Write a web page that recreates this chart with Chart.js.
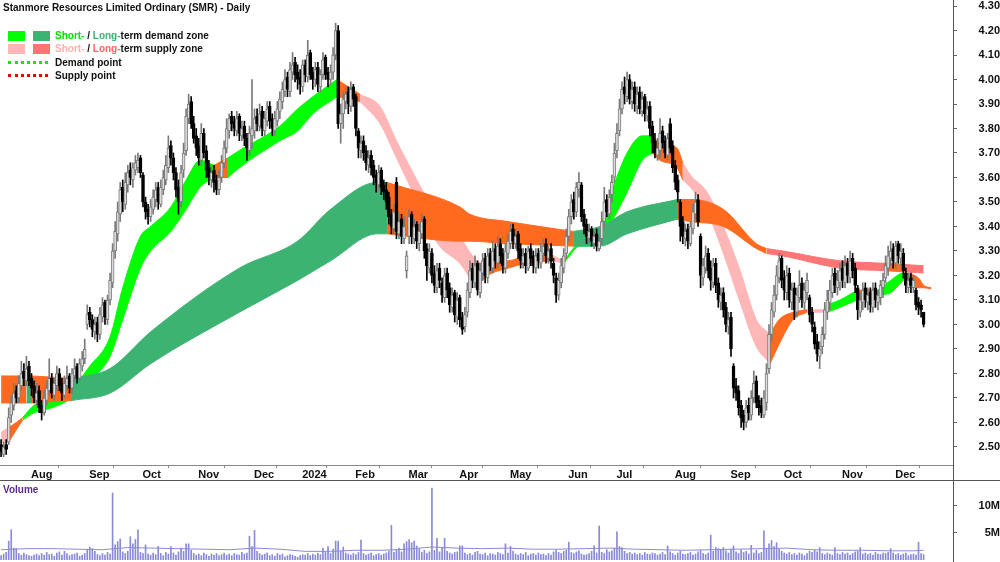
<!DOCTYPE html>
<html>
<head>
<meta charset="utf-8">
<script src="https://cdn.jsdelivr.net/npm/chart.js@4.4.1/dist/chart.umd.min.js"></script>
<style>
  body { margin: 0; background: #fff; width: 1000px; height: 562px; overflow: hidden; position: relative;
         font-family: "Liberation Sans", Arial, sans-serif; font-weight: bold; font-size: 10px; color: #111; }
  canvas { position: absolute; left: 0; }
  #main { top: 0; }
  #vol { top: 480px; }
  .abs { position: absolute; white-space: nowrap; }
  #title { left: 3px; top: 2px; font-size: 10px; }
  .sw { position: absolute; width: 17px; height: 10px; }
  .dots { position: absolute; left: 8px; width: 40px; height: 0; border-top: 3px dotted; }
  #sepline { position: absolute; left: 0; top: 480px; width: 1000px; height: 1px; background: #555; }
  #vline { position: absolute; left: 953px; top: 0; width: 1px; height: 562px; background: #555; }
  #volLabel { left: 3px; top: 484px; color: #5b2a8c; }
</style>
</head>
<body>
<canvas id="main" width="1000" height="480"></canvas>
<canvas id="vol" width="1000" height="82"></canvas>
<div id="sepline"></div>
<div id="vline"></div>

<div id="title" class="abs">Stanmore Resources Limited Ordinary (SMR) - Daily</div>
<div class="sw" style="left:8px;top:31px;background:#00ff00"></div>
<div class="sw" style="left:33px;top:31px;background:#3cb371"></div>
<div class="abs" style="left:55px;top:30px"><span style="color:#00dd00">Short-</span> / <span style="color:#3cb371">Long-</span>term demand zone</div>
<div class="sw" style="left:8px;top:44px;background:#ffb6b6"></div>
<div class="sw" style="left:33px;top:44px;background:#ff7474"></div>
<div class="abs" style="left:55px;top:43px"><span style="color:#ffb0b0">Short-</span> / <span style="color:#ff6464">Long-</span>term supply zone</div>
<div class="dots" style="top:61px;border-color:#00ee00"></div>
<div class="abs" style="left:55px;top:57px">Demand point</div>
<div class="dots" style="top:74px;border-color:#ee0000"></div>
<div class="abs" style="left:55px;top:70px">Supply point</div>
<div id="volLabel" class="abs">Volume</div>

<script>
// daily candles, index 0 = 17 Jul 2023
const opens = [
2.51,2.47,2.51,2.52,2.63,2.67,2.73,2.70,2.75,2.81,
2.77,2.83,2.78,2.75,2.69,2.73,2.67,2.64,2.69,2.73,
2.78,2.71,2.75,2.80,2.76,2.71,2.75,2.79,2.74,2.79,
2.83,2.78,2.83,2.86,3.00,3.05,3.02,2.97,3.01,2.96,
3.03,3.09,3.02,3.10,3.17,3.30,3.37,3.45,3.56,3.49,
3.57,3.63,3.59,3.63,3.64,3.68,3.61,3.50,3.47,3.44,
3.47,3.51,3.56,3.49,3.55,3.59,3.64,3.73,3.68,3.62,
3.56,3.50,3.63,3.71,3.84,3.91,3.82,3.77,3.73,3.67,
3.78,3.71,3.64,3.59,3.63,3.59,3.55,3.60,3.66,3.72,
3.79,3.85,3.83,3.79,3.85,3.77,3.81,3.76,3.71,3.77,
3.79,3.85,3.81,3.87,3.79,3.83,3.89,3.84,3.79,3.83,
3.87,3.91,3.95,4.01,3.95,4.03,4.07,4.03,4.01,3.97,
4.06,4.01,4.11,4.03,4.00,4.05,3.97,4.02,4.09,4.03,
4.00,4.03,4.10,4.20,3.82,3.86,3.91,3.95,3.89,3.97,
3.93,3.79,3.71,3.75,3.71,3.65,3.69,3.65,3.61,3.57,
3.63,3.57,3.55,3.52,3.45,3.39,3.58,3.37,3.43,3.35,
3.22,3.36,3.45,3.35,3.41,3.33,3.37,3.43,3.31,3.23,
3.29,3.21,3.15,3.23,3.17,3.11,3.21,3.15,3.07,3.13,
3.03,3.11,3.03,2.99,3.05,3.13,3.23,3.17,3.25,3.13,
3.21,3.27,3.19,3.29,3.23,3.31,3.25,3.33,3.29,3.23,
3.29,3.33,3.39,3.33,3.37,3.31,3.25,3.29,3.23,3.31,
3.28,3.23,3.29,3.25,3.29,3.33,3.27,3.31,3.25,3.19,
3.12,3.17,3.23,3.29,3.36,3.44,3.51,3.46,3.55,3.57,
3.45,3.41,3.35,3.39,3.33,3.37,3.31,3.35,3.42,3.51,
3.45,3.53,3.60,3.71,3.79,3.88,3.97,3.93,4.00,3.91,
3.97,3.89,3.95,3.87,3.93,3.85,3.89,3.81,3.75,3.69,
3.71,3.79,3.75,3.69,3.82,3.73,3.65,3.59,3.50,3.42,
3.35,3.39,3.33,3.39,3.45,3.51,3.36,3.19,3.23,3.29,
3.23,3.17,3.25,3.17,3.09,3.13,3.07,2.99,3.03,2.83,
2.75,2.73,2.67,2.63,2.60,2.67,2.63,2.70,2.77,2.69,
2.67,2.63,2.68,2.82,2.96,3.05,3.12,3.19,3.27,3.19,
3.13,3.21,3.09,3.15,3.05,3.11,3.17,3.09,3.13,3.11,
3.05,2.99,2.93,2.87,2.91,2.96,3.05,3.09,3.13,3.21,
3.15,3.17,3.23,3.17,3.25,3.19,3.27,3.23,3.15,3.05,
3.09,3.15,3.09,3.13,3.07,3.15,3.09,3.11,3.15,3.19,
3.23,3.27,3.31,3.25,3.33,3.27,3.29,3.21,3.15,3.19,
3.15,3.14,3.09,3.08,3.05];

const highs = [
2.53,2.52,2.53,2.66,2.71,2.76,2.75,2.79,2.85,2.84,
2.87,2.85,2.80,2.77,2.76,2.75,2.69,2.73,2.77,2.86,
2.80,2.78,2.83,2.82,2.78,2.79,2.83,2.80,2.82,2.86,
2.84,2.86,2.89,2.94,3.08,3.07,3.04,3.03,3.03,3.07,
3.11,3.10,3.12,3.21,3.33,3.42,3.50,3.58,3.59,3.62,
3.65,3.66,3.66,3.69,3.70,3.69,3.62,3.52,3.49,3.51,
3.55,3.58,3.58,3.59,3.63,3.69,3.77,3.75,3.70,3.64,
3.59,3.65,3.74,3.88,3.94,3.93,3.85,3.80,3.76,3.82,
3.80,3.73,3.67,3.65,3.65,3.61,3.63,3.69,3.75,3.84,
3.86,3.87,3.85,3.87,3.86,3.83,3.83,3.78,3.81,4.00,
3.88,3.88,3.90,3.89,3.87,3.91,3.91,3.86,3.87,3.91,
3.95,3.99,4.04,4.03,4.07,4.11,4.09,4.06,4.04,4.08,
4.08,4.16,4.12,4.05,4.07,4.07,4.04,4.11,4.10,4.05,
4.06,4.13,4.23,4.22,3.90,3.95,3.97,3.97,3.99,3.98,
3.94,3.80,3.77,3.77,3.73,3.71,3.71,3.67,3.63,3.65,
3.64,3.59,3.58,3.54,3.47,3.49,3.60,3.46,3.45,3.44,
3.30,3.47,3.46,3.43,3.42,3.41,3.45,3.44,3.33,3.33,
3.31,3.24,3.25,3.25,3.19,3.23,3.23,3.17,3.15,3.14,
3.13,3.12,3.05,3.07,3.17,3.26,3.25,3.28,3.26,3.25,
3.29,3.29,3.31,3.31,3.34,3.33,3.36,3.35,3.31,3.33,
3.37,3.41,3.41,3.39,3.38,3.33,3.31,3.31,3.32,3.33,
3.30,3.31,3.31,3.33,3.35,3.35,3.32,3.33,3.27,3.21,
3.21,3.27,3.31,3.39,3.47,3.53,3.54,3.58,3.62,3.58,
3.47,3.43,3.41,3.40,3.38,3.39,3.36,3.46,3.56,3.53,
3.55,3.61,3.74,3.82,3.92,3.99,4.01,4.03,4.02,3.99,
3.99,3.97,3.97,3.95,3.94,3.91,3.91,3.83,3.78,3.76,
3.84,3.81,3.77,3.78,3.84,3.75,3.67,3.61,3.51,3.44,
3.41,3.41,3.42,3.49,3.54,3.53,3.37,3.27,3.32,3.31,
3.26,3.27,3.27,3.19,3.15,3.15,3.09,3.05,3.05,2.84,
2.78,2.75,2.69,2.65,2.69,2.70,2.73,2.81,2.79,2.71,
2.70,2.73,2.84,3.00,3.09,3.16,3.24,3.29,3.28,3.22,
3.24,3.23,3.17,3.17,3.15,3.22,3.19,3.17,3.21,3.12,
3.07,3.01,2.96,2.93,2.99,3.09,3.14,3.18,3.23,3.23,
3.22,3.25,3.26,3.28,3.27,3.30,3.29,3.25,3.16,3.13,
3.17,3.17,3.15,3.15,3.17,3.17,3.14,3.18,3.21,3.28,
3.32,3.34,3.33,3.34,3.34,3.33,3.31,3.23,3.21,3.21,
3.20,3.15,3.11,3.10,3.05];

const lows = [
2.46,2.46,2.47,2.51,2.60,2.65,2.68,2.68,2.73,2.75,
2.75,2.75,2.71,2.68,2.67,2.64,2.61,2.63,2.67,2.71,
2.70,2.69,2.73,2.73,2.69,2.70,2.73,2.72,2.72,2.77,
2.76,2.77,2.81,2.84,2.98,2.99,2.95,2.94,2.93,2.94,
3.01,3.00,3.00,3.08,3.15,3.27,3.34,3.42,3.46,3.47,
3.54,3.57,3.56,3.61,3.62,3.60,3.48,3.43,3.41,3.42,
3.45,3.48,3.47,3.48,3.53,3.57,3.62,3.65,3.59,3.52,
3.45,3.48,3.60,3.69,3.82,3.80,3.74,3.69,3.65,3.65,
3.68,3.60,3.57,3.56,3.54,3.53,3.53,3.58,3.64,3.70,
3.76,3.79,3.77,3.77,3.75,3.75,3.73,3.67,3.69,3.72,
3.76,3.79,3.79,3.77,3.77,3.81,3.80,3.77,3.77,3.81,
3.84,3.88,3.93,3.93,3.93,4.00,3.99,3.96,3.94,3.95,
3.99,3.99,4.00,3.96,3.97,3.95,3.95,4.00,4.00,3.97,
3.98,4.00,4.08,3.80,3.74,3.80,3.88,3.86,3.87,3.89,
3.77,3.68,3.68,3.67,3.63,3.62,3.61,3.57,3.54,3.55,
3.53,3.51,3.47,3.41,3.37,3.37,3.35,3.35,3.33,3.33,
3.19,3.33,3.33,3.33,3.31,3.30,3.35,3.27,3.18,3.21,
3.17,3.13,3.13,3.15,3.09,3.09,3.11,3.05,3.05,3.01,
3.00,2.99,2.96,2.97,3.03,3.11,3.15,3.15,3.12,3.11,
3.18,3.17,3.17,3.22,3.21,3.23,3.23,3.25,3.21,3.21,
3.27,3.31,3.31,3.31,3.27,3.23,3.23,3.21,3.22,3.24,
3.21,3.21,3.23,3.23,3.26,3.25,3.25,3.23,3.17,3.09,
3.10,3.15,3.21,3.27,3.34,3.41,3.43,3.44,3.52,3.42,
3.37,3.33,3.33,3.32,3.31,3.30,3.30,3.33,3.40,3.44,
3.43,3.50,3.58,3.68,3.77,3.86,3.90,3.91,3.90,3.88,
3.87,3.86,3.86,3.85,3.83,3.83,3.77,3.70,3.68,3.67,
3.68,3.72,3.68,3.67,3.70,3.62,3.55,3.50,3.34,3.33,
3.32,3.31,3.32,3.37,3.43,3.40,3.15,3.16,3.21,3.19,
3.14,3.15,3.13,3.07,3.06,3.03,2.97,2.96,2.87,2.70,
2.69,2.63,2.58,2.57,2.58,2.61,2.61,2.68,2.66,2.63,
2.62,2.62,2.65,2.80,2.93,3.03,3.10,3.17,3.15,3.10,
3.10,3.07,3.06,3.02,3.03,3.09,3.07,3.06,3.10,3.01,
2.97,2.90,2.85,2.82,2.88,2.94,3.02,3.06,3.11,3.13,
3.12,3.14,3.15,3.15,3.17,3.17,3.19,3.13,3.02,3.03,
3.06,3.07,3.06,3.05,3.05,3.07,3.06,3.08,3.11,3.17,
3.20,3.24,3.23,3.23,3.25,3.24,3.19,3.13,3.13,3.13,
3.13,3.06,3.04,3.03,2.99];

const closes = [
2.48,2.50,2.49,2.62,2.68,2.72,2.70,2.76,2.80,2.78,
2.82,2.77,2.74,2.70,2.72,2.66,2.64,2.70,2.74,2.78,
2.72,2.76,2.80,2.75,2.72,2.76,2.78,2.74,2.80,2.82,
2.78,2.84,2.86,2.90,3.04,3.02,2.98,3.00,2.96,3.04,
3.08,3.03,3.10,3.18,3.30,3.38,3.46,3.55,3.50,3.58,
3.62,3.60,3.64,3.66,3.67,3.62,3.50,3.46,3.44,3.48,
3.52,3.55,3.50,3.56,3.60,3.65,3.72,3.68,3.62,3.55,
3.50,3.62,3.70,3.85,3.90,3.82,3.76,3.72,3.68,3.78,
3.70,3.63,3.60,3.62,3.58,3.55,3.60,3.66,3.72,3.80,
3.84,3.82,3.80,3.84,3.78,3.80,3.76,3.72,3.78,3.80,
3.84,3.82,3.86,3.80,3.84,3.88,3.83,3.80,3.84,3.88,
3.92,3.96,4.00,3.96,4.04,4.06,4.02,4.00,3.98,4.06,
4.02,4.10,4.02,4.00,4.04,3.98,4.02,4.08,4.02,4.00,
4.03,4.10,4.20,3.82,3.86,3.92,3.94,3.90,3.96,3.92,
3.80,3.72,3.74,3.70,3.66,3.68,3.64,3.60,3.58,3.62,
3.56,3.54,3.50,3.44,3.40,3.46,3.38,3.42,3.36,3.40,
3.28,3.44,3.36,3.40,3.34,3.38,3.42,3.30,3.24,3.30,
3.20,3.16,3.22,3.18,3.12,3.20,3.14,3.08,3.12,3.04,
3.10,3.02,2.98,3.04,3.14,3.22,3.18,3.24,3.14,3.22,
3.26,3.20,3.28,3.24,3.30,3.26,3.32,3.28,3.24,3.30,
3.34,3.38,3.34,3.36,3.30,3.26,3.28,3.24,3.30,3.27,
3.24,3.28,3.26,3.30,3.32,3.28,3.30,3.26,3.20,3.12,
3.18,3.24,3.28,3.36,3.44,3.50,3.46,3.56,3.58,3.44,
3.40,3.36,3.38,3.34,3.36,3.32,3.34,3.42,3.50,3.46,
3.52,3.58,3.70,3.78,3.88,3.96,3.94,4.00,3.92,3.96,
3.90,3.94,3.88,3.92,3.86,3.88,3.80,3.74,3.70,3.72,
3.78,3.74,3.70,3.76,3.72,3.64,3.58,3.54,3.40,3.36,
3.38,3.34,3.40,3.46,3.50,3.42,3.20,3.24,3.28,3.22,
3.18,3.24,3.16,3.10,3.12,3.06,3.00,3.02,2.90,2.74,
2.72,2.66,2.62,2.60,2.66,2.64,2.70,2.76,2.68,2.66,
2.64,2.70,2.80,2.96,3.06,3.12,3.20,3.26,3.18,3.14,
3.20,3.10,3.14,3.06,3.12,3.16,3.10,3.14,3.18,3.04,
3.00,2.92,2.88,2.90,2.96,3.06,3.10,3.14,3.20,3.16,
3.18,3.22,3.18,3.24,3.20,3.26,3.22,3.16,3.06,3.10,
3.14,3.10,3.12,3.08,3.14,3.10,3.12,3.16,3.18,3.24,
3.28,3.30,3.26,3.32,3.28,3.30,3.22,3.16,3.18,3.16,
3.18,3.08,3.07,3.06,3.00];

// volume in millions
const volumes = [
0.8,1.1,1.4,3.5,5.6,2.2,2.1,1.2,0.9,1.3,
1.0,0.8,0.7,0.9,1.1,0.8,1.2,0.9,1.4,1.0,
1.1,0.7,1.3,1.5,0.9,1.6,1.2,0.8,1.0,1.1,
1.3,0.7,0.9,1.2,1.9,2.4,2.1,1.6,1.0,0.8,
1.2,0.9,1.4,1.1,12.4,2.8,3.4,3.9,1.5,1.2,
1.6,4.3,3.0,3.8,5.6,1.4,1.2,2.8,1.1,0.9,
1.3,1.0,2.5,1.2,0.8,1.4,1.1,2.5,1.3,0.9,
1.5,2.2,1.6,3.0,3.0,1.8,1.2,0.9,1.1,0.8,
1.3,1.0,0.7,1.1,0.9,1.2,0.8,1.0,1.3,0.9,
1.1,0.8,1.2,1.0,0.9,1.4,1.1,1.3,4.4,2.5,
5.5,1.6,1.2,0.9,1.1,1.3,0.8,1.0,0.7,1.2,
0.9,1.1,0.6,0.8,1.0,0.9,0.7,0.5,0.8,1.0,
0.9,1.2,0.8,1.1,0.9,1.3,1.0,2.2,1.4,2.5,
1.2,2.0,3.5,3.5,1.6,2.4,1.3,1.1,0.9,1.2,
1.0,1.4,3.7,1.2,0.9,1.1,1.3,0.8,1.0,1.2,
0.9,1.1,1.3,1.6,6.4,1.4,1.9,2.2,1.5,3.0,
3.4,3.8,3.2,3.5,2.6,2.1,1.4,1.8,1.2,1.5,
13.3,1.8,4.0,1.5,2.2,4.0,1.6,1.3,1.1,1.4,
1.5,2.6,2.6,1.3,1.0,1.2,0.9,1.4,1.6,1.1,
1.0,1.3,0.8,1.2,1.1,0.9,1.4,1.2,1.0,3.0,
1.3,2.5,1.6,1.1,0.9,1.2,1.0,1.4,0.8,1.1,
1.2,0.9,1.3,1.0,1.1,0.8,1.2,0.9,1.5,1.9,
1.4,1.2,1.6,1.8,3.3,1.4,1.2,1.5,1.7,1.1,
0.9,1.0,1.2,1.6,2.6,1.3,6.3,1.4,1.2,1.9,
1.5,1.7,2.2,5.2,2.5,2.3,1.6,1.2,1.4,1.1,
1.3,1.0,1.2,0.9,1.4,1.1,1.0,1.3,1.2,0.9,
1.1,1.4,1.0,2.6,1.5,1.2,0.9,1.3,1.6,1.1,
1.0,1.2,1.4,0.9,1.1,1.5,1.8,1.2,1.0,1.3,
4.6,1.6,2.3,2.1,1.9,2.3,1.7,1.3,2.0,2.6,
1.5,1.2,1.9,1.4,1.6,1.1,2.7,1.3,1.8,1.2,
1.4,5.4,2.1,3.0,3.6,2.5,3.2,2.0,1.6,1.3,
1.1,1.4,1.0,1.2,0.9,1.3,1.1,0.8,1.2,1.6,
1.4,1.8,1.5,2.3,1.2,1.0,1.3,1.1,0.9,2.3,
1.2,1.0,1.4,1.1,1.3,0.9,1.2,1.5,1.6,2.3,
1.1,1.3,1.0,1.2,0.9,1.4,1.1,1.0,1.3,1.2,
1.4,2.1,1.3,1.0,1.2,0.9,1.1,1.3,0.8,1.0,
1.1,0.9,3.3,1.2,1.0];

// volume average line, read every 10 sessions
const volMaIdx = [0,10,20,30,40,50,60,70,80,90,100,110,120,130,140,150,160,170,180,190,200,210,220,230,240,250,260,270,280,290,300,310,320,330,340,350,360,364];
const volMa = [1.9,2.1,2.1,2.0,1.9,2.3,2.2,2.1,2.0,1.9,2.2,2.0,1.6,1.6,1.8,1.8,2.0,2.4,2.2,2.1,2.2,2.0,2.0,2.1,2.2,2.0,1.9,1.8,1.9,2.0,2.1,2.2,1.9,1.8,1.8,1.7,1.7,1.8];

// short-term zone edges (session index, top, bottom, colour of the piece that starts there)
const stIdx = [0,3,6,8.5,13,20,28,35,43,48,55,59,67,73,78.5,84,89.5,94,110,117,123,132.5,141.6,149.5,156,162.5,169,173,181,186,189,192,200,207.5,218,222,228.5,233.6,236.4,241.5,247,253,257,260,266.7,269,272,278.6,285,291.6,298,303.4,307,312.5,318,324,326,331,337.8,346,351,356,357.5,362,364,367];
const stHi = [2.56,2.58,2.60,2.62,2.67,2.69,2.74,2.83,2.95,3.15,3.36,3.40,3.48,3.59,3.67,3.65,3.68,3.71,3.81,3.88,3.93,4.00,3.94,3.89,3.75,3.62,3.50,3.45,3.36,3.28,3.25,3.26,3.26,3.28,3.28,3.26,3.34,3.36,3.40,3.56,3.70,3.77,3.77,3.74,3.72,3.66,3.61,3.54,3.40,3.22,3.02,2.96,3.02,3.05,3.06,3.06,3.08,3.10,3.14,3.14,3.18,3.21,3.21,3.19,3.16,3.15];
const stLo = [2.52,2.52,2.57,2.61,2.64,2.66,2.70,2.77,2.87,3.02,3.23,3.30,3.38,3.47,3.56,3.60,3.60,3.64,3.75,3.79,3.86,3.93,3.91,3.82,3.68,3.54,3.39,3.32,3.25,3.18,3.17,3.20,3.23,3.25,3.26,3.25,3.32,3.32,3.34,3.43,3.54,3.67,3.70,3.67,3.64,3.59,3.56,3.46,3.29,3.09,2.91,2.84,2.92,3.02,3.05,3.05,3.05,3.07,3.10,3.12,3.13,3.18,3.19,3.15,3.15,3.145];
const stCol = ['pink','orange','orange','lime','lime','lime','lime','lime','lime','lime',
  'lime','lime','lime','lime','lime','orange','lime','lime','lime','lime',
  'lime','orange','pink','pink','pink','pink','pink','pink','pink','pink','orange',
  'orange','orange','orange','pink','lime','lime','lime','lime','lime','lime',
  'lime','orange','orange','orange','pink','pink','pink','pink','pink','pink',
  'orange','orange','orange','pink','pink','lime','lime','orange','lime','lime',
  'lime','orange','orange','orange','orange'];

// long-term zone edges
const ltIdx = [0,10,12.2,28,43,59,94,117,130,148.4,152.3,181,185,200,225.7,236.4,247,266.7,272,285,298,302,308.5,331,348,356,364];
const ltHi = [2.79,2.79,2.79,2.78,2.82,2.97,3.23,3.34,3.47,3.58,3.58,3.48,3.45,3.42,3.38,3.40,3.46,3.51,3.51,3.47,3.33,3.31,3.30,3.26,3.25,3.245,3.24];
const ltLo = [2.68,2.68,2.68,2.69,2.72,2.84,3.05,3.18,3.26,3.37,3.37,3.34,3.34,3.33,3.32,3.32,3.37,3.43,3.42,3.40,3.31,3.29,3.28,3.23,3.22,3.215,3.21];
const ltCol = ['orange','sea','orange','sea','sea','sea','sea','sea','sea','sea','orange','orange','orange','orange','sea','sea','sea','orange','orange','orange','orange','salmon','salmon','salmon','orange','salmon','salmon'];

// month axis
const monthIdx = [11,34,55,77,99,118,139,160,180,200,223,242,265,287,308,331,352];
const monthLabels = ['Aug','Sep','Oct','Nov','Dec','2024','Feb','Mar','Apr','May','Jun','Jul','Aug','Sep','Oct','Nov','Dec'];
const priceTicks = [2.5,2.6,2.7,2.8,2.9,3.0,3.1,3.2,3.3,3.4,3.5,3.6,3.7,3.8,3.9,4.0,4.1,4.2,4.3];
const volTicks = [5, 10];

const zoneColors = { lime: '#00ff00', sea: '#3cb371', pink: '#ffb6b6', orange: '#ff6a1f', salmon: '#ff7474' };

const xMin = -0.43, xMax = 375.6;

Chart.defaults.font.family = "'Liberation Sans', Arial, sans-serif";
Chart.defaults.font.size = 11;
Chart.defaults.font.weight = 'bold';
Chart.defaults.color = '#111';

function bandSets(idx, hi, lo, col) {
    const sets = [];
    let s = 0;
    for (let k = 1; k < idx.length; k++) {
        if (k === idx.length - 1 || col[k] !== col[s]) {
            const c = zoneColors[col[s]];
            const top = [], bot = [];
            for (let j = s; j <= k; j++) {
                top.push({ x: idx[j], y: hi[j] });
                bot.push({ x: idx[j], y: lo[j] });
            }
            const base = { type: 'line', pointRadius: 0, borderWidth: 1, borderColor: c, cubicInterpolationMode: 'monotone', order: 5 };
            sets.push(Object.assign({}, base, { data: top, fill: false }));
            sets.push(Object.assign({}, base, { data: bot, fill: '-1', backgroundColor: c }));
            s = k;
        }
    }
    return sets;
}

const isUp = closes.map((c, i) => c >= opens[i]);

const wicks = {
    type: 'bar',
    data: closes.map((c, i) => ({ x: i, y: [lows[i], highs[i]] })),
    backgroundColor: ctx => isUp[ctx.dataIndex] ? '#7a7a7a' : '#000',
    barThickness: 1,
    grouped: false,
    order: 2
};
const bodies = {
    type: 'bar',
    data: closes.map((c, i) => ({ x: i, y: [opens[i], c] })),
    backgroundColor: ctx => isUp[ctx.dataIndex] ? '#dcdcdc' : '#000',
    borderColor: ctx => isUp[ctx.dataIndex] ? '#7a7a7a' : '#000',
    borderWidth: 1,
    borderSkipped: false,
    barThickness: 3,
    grouped: false,
    order: 1
};

new Chart(document.getElementById('main'), {
    type: 'bar',
    data: { datasets: [...bandSets(ltIdx, ltHi, ltLo, ltCol), ...bandSets(stIdx, stHi, stLo, stCol), wicks, bodies] },
    options: {
        responsive: false,
        animation: false,
        events: [],
        layout: { padding: 0 },
        plugins: { legend: { display: false }, tooltip: { enabled: false } },
        scales: {
            x: {
                type: 'linear', min: xMin, max: xMax, offset: false,
                grid: { drawOnChartArea: false, tickLength: 3, color: '#888' },
                border: { color: '#888' },
                ticks: {
                    autoSkip: false, maxRotation: 0, align: 'start', labelOffset: 2, padding: 0,
                    callback: v => { const k = monthIdx.indexOf(v); return k >= 0 ? monthLabels[k] : ''; }
                },
                afterBuildTicks: s => { s.ticks = monthIdx.map(v => ({ value: v })); },
                afterFit: s => { s.height = 15; s.paddingLeft = 0; s.paddingRight = 0; }
            },
            y: {
                position: 'right', min: 2.4265, max: 4.3245,
                grid: { drawOnChartArea: false, tickLength: 4, color: '#666' },
                border: { color: '#555' },
                ticks: { crossAlign: 'far', padding: 14, callback: v => v.toFixed(2) },
                afterBuildTicks: s => { s.ticks = priceTicks.map(v => ({ value: v })); },
                afterFit: s => { s.width = 47; s.paddingTop = 0; s.paddingBottom = 0; }
            }
        }
    }
});

new Chart(document.getElementById('vol'), {
    type: 'bar',
    data: {
        datasets: [
            { type: 'line', data: volMaIdx.map((x, k) => ({ x: x, y: volMa[k] })), borderColor: '#8a8ad6', borderWidth: 1, pointRadius: 0, order: 1 },
            { type: 'bar', data: volumes.map((v, i) => ({ x: i, y: v })), backgroundColor: '#8a8ad6', barThickness: 1, grouped: false, order: 2 }
        ]
    },
    options: {
        responsive: false,
        animation: false,
        events: [],
        layout: { padding: { bottom: 2 } },
        plugins: { legend: { display: false }, tooltip: { enabled: false } },
        scales: {
            x: { type: 'linear', min: xMin, max: xMax, offset: false, display: false },
            y: {
                position: 'right', min: 0, max: 14.8,
                grid: { drawOnChartArea: false, tickLength: 4, color: '#666' },
                border: { color: '#555' },
                ticks: { crossAlign: 'far', padding: 16, callback: v => v + 'M' },
                afterBuildTicks: s => { s.ticks = volTicks.map(v => ({ value: v })); },
                afterFit: s => { s.width = 47; s.paddingTop = 0; s.paddingBottom = 0; }
            }
        }
    }
});
</script>
</body>
</html>
